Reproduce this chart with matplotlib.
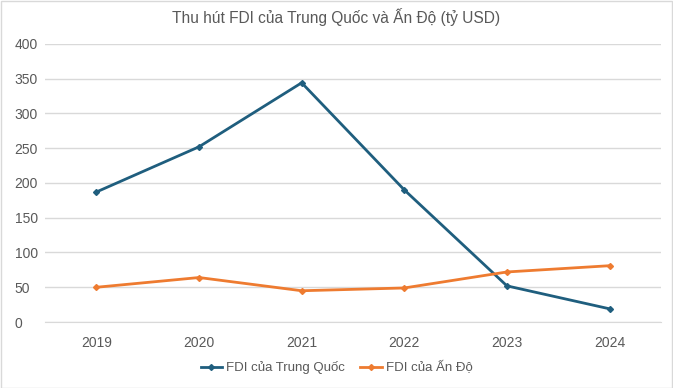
import matplotlib.pyplot as plt
from matplotlib.patches import Rectangle

years = ['2019', '2020', '2021', '2022', '2023', '2024']
china = [187, 252, 344, 190, 52, 19]
india = [50, 64, 45, 49, 72, 81]

plt.rcParams['font.family'] = ['Liberation Sans', 'DejaVu Sans']
grey = '#595959'

fig = plt.figure(figsize=(6.73, 3.88), dpi=100)
ax = fig.add_axes([0.067, 0.170, 0.915, 0.717])

x = range(len(years))
ax.plot(x, china, color='#1F5E7E', lw=2, marker='D', ms=3, label='FDI của Trung Quốc')
ax.plot(x, india, color='#EE7B30', lw=2, marker='D', ms=3, label='FDI của Ấn Độ')

ax.set_xlim(-0.5, 5.5)
ax.set_ylim(0, 400)
ax.set_yticks(range(0, 401, 50))
ax.set_xticks(list(x))
ax.set_xticklabels(years)
ax.grid(axis='y', color='#D9D9D9', lw=1)
ax.set_axisbelow(True)
for s in ax.spines.values():
    s.set_visible(False)
ax.spines['bottom'].set_visible(True)
ax.spines['bottom'].set_color('#D9D9D9')
ax.tick_params(length=0, colors=grey, labelsize=10)
ax.tick_params(axis='x', pad=10)
ax.tick_params(axis='y', pad=22)
for lbl in ax.get_yticklabels():
    lbl.set_horizontalalignment('left')

fig.text(0.5, 0.956, 'Thu hút FDI của Trung Quốc và Ấn Độ (tỷ USD)', ha='center', va='center',
         fontsize=11.2, color=grey)
fig.legend(loc='center', bbox_to_anchor=(0.5, 0.052), ncol=2, frameon=False,
           fontsize=9.5, labelcolor=grey, handlelength=1.6, handletextpad=0.3,
           columnspacing=1.2)
fig.patches.append(Rectangle((0.001, 0.001), 0.997, 0.997, transform=fig.transFigure,
                             fill=False, edgecolor='#D9D9D9', lw=1))

fig.savefig('out.png', dpi=100)
